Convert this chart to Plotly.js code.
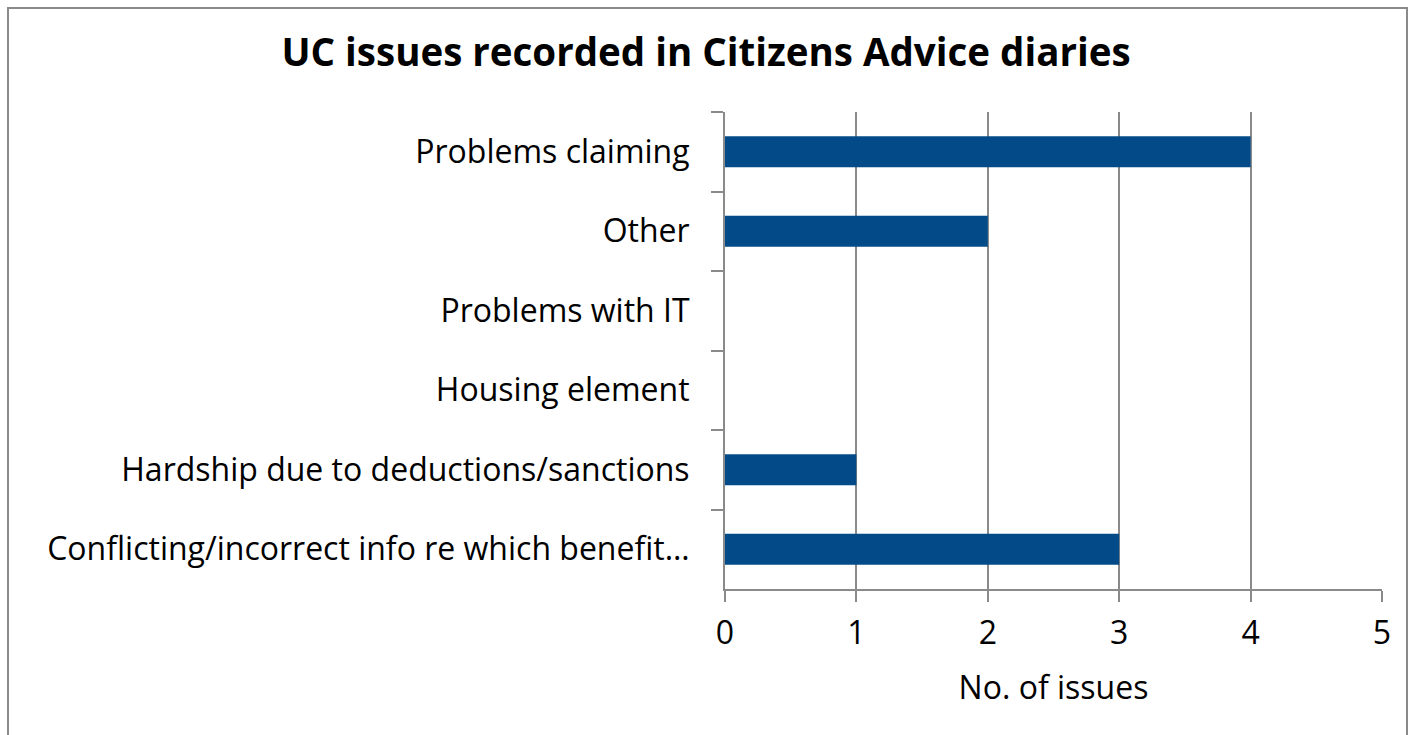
<!DOCTYPE html>
<html>
<head>
<meta charset="utf-8">
<script src="https://cdn.plot.ly/plotly-3.0.1.min.js"></script>
<style>
  html, body { margin: 0; padding: 0; background: #fff; overflow: hidden; }
  #chart { width: 1412px; height: 735px; position: absolute; left: 0; top: 0; }
  #frame { position: absolute; left: 7px; top: 7px; width: 1397px; height: 800px;
           border: 2px solid #8a8a8a; pointer-events: none; }
</style>
</head>
<body>
<div id="chart"></div>
<div id="frame"></div>
<script>
const categories = [
  "Problems claiming",
  "Other",
  "Problems with IT",
  "Housing element",
  "Hardship due to deductions/sanctions",
  "Conflicting/incorrect info re which benefit\u2026"
];
const issues = [4, 2, 0, 0, 1, 3];
const xTicks = [0, 1, 2, 3, 4, 5];

const font = "Open Sans, sans-serif";

const trace = {
  type: "bar",
  orientation: "h",
  y: categories,
  x: issues,
  marker: { color: "#034b88", line: { width: 0 } },
  hoverinfo: "x+y"
};

const layout = {
  width: 1412,
  height: 735,
  margin: { l: 725, r: 30, t: 112, b: 146, pad: 0 },
  paper_bgcolor: "#ffffff",
  plot_bgcolor: "#ffffff",
  showlegend: false,
  bargap: 0.61,
  title: {
    text: "<b>UC issues recorded in Citizens Advice diaries</b>",
    font: { family: font, size: 38.5, color: "#000000" },
    x: 0.5, xanchor: "center",
    y: 1 - 53 / 735, yanchor: "middle", yref: "container"
  },
  xaxis: {
    range: [0, 5],
    tickvals: xTicks,
    ticks: "outside",
    ticklen: 11,
    tickwidth: 2,
    tickcolor: "#8a8a8a",
    showgrid: true,
    gridcolor: "#8a8a8a",
    gridwidth: 2,
    zeroline: false,
    showline: true,
    linecolor: "#8a8a8a",
    linewidth: 2,
    ticklabelstandoff: 4,
    tickfont: { family: font, size: 32, color: "#000000" },
    title: {
      text: "No. of issues",
      font: { family: font, size: 32, color: "#000000" },
      standoff: 24
    },
    fixedrange: true
  },
  yaxis: {
    type: "category",
    autorange: "reversed",
    tickson: "boundaries",
    ticks: "outside",
    ticklen: 12,
    tickwidth: 2,
    tickcolor: "#8a8a8a",
    showgrid: false,
    zeroline: false,
    showline: true,
    linecolor: "#8a8a8a",
    linewidth: 2,
    ticklabelstandoff: 27,
    tickfont: { family: font, size: 32, color: "#000000" },
    fixedrange: true
  }
};

Plotly.newPlot("chart", [trace], layout, { displayModeBar: false, staticPlot: true });
</script>
</body>
</html>
